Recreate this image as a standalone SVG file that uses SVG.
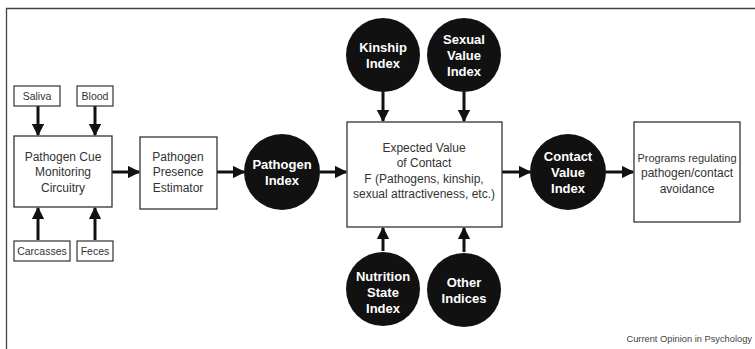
<svg xmlns="http://www.w3.org/2000/svg" width="755" height="349" viewBox="0 0 755 349">
<style>
.box{fill:#fff;stroke:#333;stroke-width:1.3}
.sbox{fill:#fff;stroke:#333;stroke-width:1.2}
.t{font-family:"Liberation Sans",Arial,sans-serif;font-size:12px;fill:#333;text-anchor:middle}
.ts{font-family:"Liberation Sans",Arial,sans-serif;font-size:10.5px;fill:#333;text-anchor:middle}
.c{fill:#111}
.ct{font-family:"Liberation Sans",Arial,sans-serif;font-size:13px;font-weight:bold;fill:#fff;text-anchor:middle}
.ar{stroke:#111;stroke-width:3;fill:none;marker-end:url(#ah)}
</style>
<defs>
<marker id="ah" viewBox="0 0 10 10" refX="9" refY="5" markerWidth="4.2" markerHeight="4.2" markerUnits="strokeWidth" orient="auto">
<path d="M0,0 L10,5 L0,10 Z" fill="#111"/>
</marker>
</defs>
<rect width="755" height="349" fill="#fff"/>
<path d="M6.5,349 V8.5 H755" fill="none" stroke="#444" stroke-width="1.3"/>

<g id="connectors">
<line class="ar" x1="38" y1="106" x2="38" y2="135"/>
<line class="ar" x1="95" y1="106" x2="95" y2="135"/>
<line class="ar" x1="38" y1="240" x2="38" y2="208"/>
<line class="ar" x1="95" y1="240" x2="95" y2="208"/>
<line class="ar" x1="112" y1="172" x2="139" y2="172"/>
<line class="ar" x1="217" y1="172" x2="244" y2="172"/>
<line class="ar" x1="320" y1="172" x2="346" y2="172"/>
<line class="ar" x1="383" y1="92" x2="383" y2="121"/>
<line class="ar" x1="464" y1="92" x2="464" y2="121"/>
<line class="ar" x1="383" y1="251" x2="383" y2="228"/>
<line class="ar" x1="464" y1="252" x2="464" y2="228"/>
<line class="ar" x1="502" y1="172" x2="530" y2="172"/>
<line class="ar" x1="606" y1="172" x2="633" y2="172"/>
</g>

<g id="saliva"><rect class="sbox" x="14" y="86" width="46" height="20"/><text class="ts" x="37" y="100">Saliva</text></g>
<g id="blood"><rect class="sbox" x="77" y="86" width="36" height="20"/><text class="ts" x="95" y="100">Blood</text></g>
<g id="carcasses"><rect class="sbox" x="14" y="241" width="56" height="20"/><text class="ts" x="42" y="255">Carcasses</text></g>
<g id="feces"><rect class="sbox" x="77" y="241" width="36" height="20"/><text class="ts" x="95" y="255">Feces</text></g>

<g id="cue"><rect class="box" x="14" y="136" width="98" height="71"/>
<text class="t" x="63" y="161">Pathogen Cue</text>
<text class="t" x="63" y="176">Monitoring</text>
<text class="t" x="63" y="192">Circuitry</text></g>

<g id="estimator"><rect class="box" x="140" y="137" width="77" height="72"/>
<text class="t" x="178" y="161">Pathogen</text>
<text class="t" x="178" y="176">Presence</text>
<text class="t" x="178" y="192">Estimator</text></g>

<g id="pathogen-index"><circle class="c" cx="282" cy="172" r="38"/>
<text class="ct" x="282" y="169">Pathogen</text>
<text class="ct" x="282" y="185">Index</text></g>

<g id="kinship"><circle class="c" cx="383" cy="55" r="37"/>
<text class="ct" x="383" y="52">Kinship</text>
<text class="ct" x="383" y="68">Index</text></g>

<g id="sexual"><circle class="c" cx="464" cy="55" r="37"/>
<text class="ct" x="464" y="44">Sexual</text>
<text class="ct" x="464" y="60">Value</text>
<text class="ct" x="464" y="76">Index</text></g>

<g id="expected"><rect class="box" x="347" y="122" width="155" height="105"/>
<text class="t" x="424" y="152">Expected Value</text>
<text class="t" x="424" y="167">of Contact</text>
<text class="t" x="424" y="183">F (Pathogens, kinship,</text>
<text class="t" x="424" y="198">sexual attractiveness, etc.)</text></g>

<g id="nutrition"><circle class="c" cx="383" cy="289" r="37"/>
<text class="ct" x="383" y="281">Nutrition</text>
<text class="ct" x="383" y="297">State</text>
<text class="ct" x="383" y="313">Index</text></g>

<g id="other"><circle class="c" cx="464" cy="290" r="37"/>
<text class="ct" x="464" y="287">Other</text>
<text class="ct" x="464" y="303">Indices</text></g>

<g id="contact"><circle class="c" cx="568" cy="172" r="38"/>
<text class="ct" x="568" y="161">Contact</text>
<text class="ct" x="568" y="177">Value</text>
<text class="ct" x="568" y="193">Index</text></g>

<g id="programs"><rect class="box" x="634" y="122" width="106" height="100"/>
<text class="t" x="687" y="162" style="font-size:11px">Programs regulating</text>
<text class="t" x="687" y="177">pathogen/contact</text>
<text class="t" x="687" y="193">avoidance</text></g>

<text x="752" y="342" font-family="'Liberation Sans',Arial,sans-serif" font-size="9.3" fill="#444" text-anchor="end">Current Opinion in Psychology</text>
</svg>
